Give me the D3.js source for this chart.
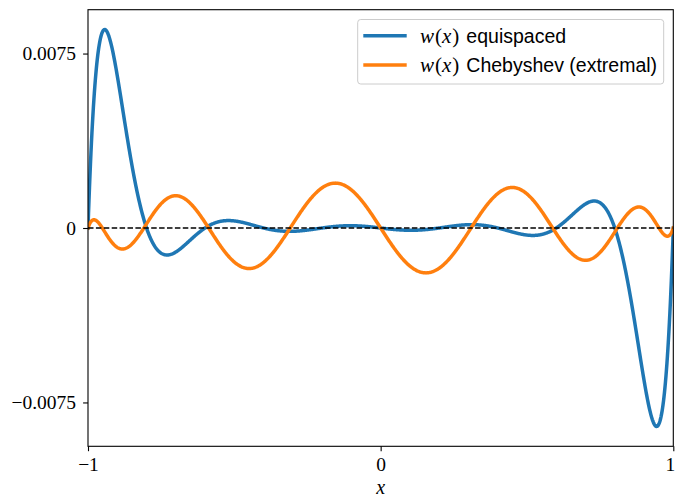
<!DOCTYPE html>
<html>
<head>
<meta charset="utf-8">
<script src="https://cdn.jsdelivr.net/npm/d3@7"></script>
<style>
  html, body { margin: 0; padding: 0; background: #fff; }
  svg { display: block; }
</style>
</head>
<body>
<svg id="chart" width="675" height="500"></svg>
<script>
// ---- data (interpolation nodes read from the zero crossings) ----
const equispacedNodes = [-1, -0.8, -0.6, -0.4, -0.2, 0, 0.2, 0.4, 0.6, 0.8, 1];
const chebyshevNodes = [-1, -0.951057, -0.809017, -0.587785, -0.309017, 0,
                        0.309017, 0.587785, 0.809017, 0.951057, 1];
const seriesLabels = ["equispaced", "Chebyshev (extremal)"];
const seriesColors = ["#1f77b4", "#ff7f0e"];
const xTicks = [-1, 0, 1];
const xTickLabels = ["\u22121", "0", "1"];
const yTicks = [0.0075, 0, -0.0075];
const yTickLabels = ["0.0075", "0", "\u22120.0075"];
const xDomain = [-1, 1];

// sample grid on [-1, 1]
const N = 1200;
const xs = d3.range(N + 1).map(i => -1 + 2 * i / N);
// nodal polynomial w(x) = prod (x - x_i)
const nodal = nodes => xs.map(x => ({x, y: nodes.reduce((p, xi) => p * (x - xi), 1)}));
const series = [nodal(equispacedNodes), nodal(chebyshevNodes)];

// ---- layout ----
const svg = d3.select("#chart");
const L = 88, R = 673.3, T = 9.7, B = 446.3;

const allY = series.flat().map(d => d.y);
const ymin = d3.min(allY), ymax = d3.max(allY);
const pad = 0.05 * (ymax - ymin);

const x = d3.scaleLinear().domain(xDomain).range([L, R]);
const y = d3.scaleLinear().domain([ymin - pad, ymax + pad]).range([B, T]);

svg.append("defs").append("clipPath").attr("id", "clip")
  .append("rect").attr("x", L).attr("y", T).attr("width", R - L).attr("height", B - T);

const plot = svg.append("g").attr("clip-path", "url(#clip)");
const line = d3.line().x(d => x(d.x)).y(d => y(d.y));

series.forEach((s, i) => {
  plot.append("path").datum(s)
    .attr("d", line)
    .attr("fill", "none")
    .attr("stroke", seriesColors[i])
    .attr("stroke-width", 3.5)
    .attr("stroke-linejoin", "round")
    .attr("stroke-linecap", "square");
});

// dashed zero line
plot.append("line")
  .attr("x1", L).attr("x2", R)
  .attr("y1", y(0)).attr("y2", y(0))
  .attr("stroke", "#000").attr("stroke-width", 1.5)
  .attr("stroke-dasharray", "5.5,2.4");

// ---- axes ----
const serif = "'Liberation Serif', 'Times New Roman', serif";
const xAxis = d3.axisBottom(x).tickValues(xTicks)
  .tickFormat((d, i) => xTickLabels[i]).tickSize(4.9).tickPadding(6);
const yAxis = d3.axisLeft(y).tickValues(yTicks)
  .tickFormat((d, i) => yTickLabels[i]).tickSize(4.9).tickPadding(7);

const gx = svg.append("g").attr("transform", `translate(0,${B})`).call(xAxis);
const gy = svg.append("g").attr("transform", `translate(${L},0)`).call(yAxis);
[gx, gy].forEach(g => {
  g.select(".domain").remove();
  g.selectAll(".tick line").attr("stroke", "#000").attr("stroke-width", 1.1);
  g.selectAll(".tick text").attr("fill", "#000")
    .style("font-family", serif).style("font-size", "19.5px");
});
// keep the last x tick label inside the picture
gx.selectAll(".tick text").filter((d, i) => i === xTicks.length - 1)
  .attr("text-anchor", "end").attr("dx", 1.5);

// spines (full box)
svg.append("rect")
  .attr("x", L).attr("y", T).attr("width", R - L).attr("height", B - T)
  .attr("fill", "none").attr("stroke", "#000").attr("stroke-width", 1.1);

// x label
svg.append("text")
  .attr("x", (L + R) / 2).attr("y", 494)
  .attr("text-anchor", "middle")
  .style("font-family", serif).style("font-size", "20px").style("font-style", "italic")
  .text("x");

// ---- legend ----
const lg = svg.append("g");
lg.append("rect")
  .attr("x", 357.7).attr("y", 19.5).attr("width", 306).attr("height", 64.5)
  .attr("rx", 3).attr("ry", 3)
  .attr("fill", "#fff").attr("fill-opacity", 0.8)
  .attr("stroke", "#cccccc").attr("stroke-width", 1);

seriesLabels.forEach((lab, i) => {
  const cy = 35.7 + i * 29.3;
  lg.append("line")
    .attr("x1", 363.3).attr("x2", 406.7).attr("y1", cy).attr("y2", cy)
    .attr("stroke", seriesColors[i]).attr("stroke-width", 3.5);
  const t = lg.append("text").attr("x", 420).attr("y", cy + 7)
    .style("font-size", "21px");
  t.append("tspan").style("font-family", serif).style("font-style", "italic").text("w");
  t.append("tspan").style("font-family", serif).attr("dx", 1).text("(");
  t.append("tspan").style("font-family", serif).style("font-style", "italic").text("x");
  t.append("tspan").style("font-family", serif).attr("dx", 1).text(")");
  t.append("tspan").style("font-family", "'Liberation Sans', Arial, sans-serif")
    .attr("dx", 7)
    .style("font-size", "19.5px").text(lab);
});
</script>
</body>
</html>
